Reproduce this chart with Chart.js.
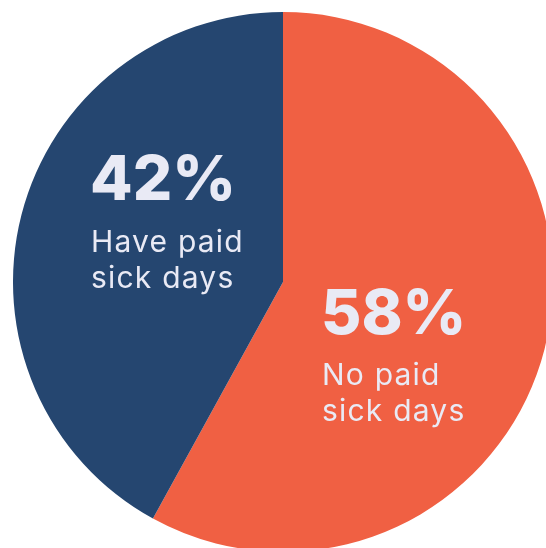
<!DOCTYPE html>
<html>
<head>
<meta charset="utf-8">
<script src="https://cdn.jsdelivr.net/npm/chart.js@4"></script>
<style>
  html, body { margin: 0; padding: 0; background: #fff; overflow: hidden; width: 546px; height: 548px; }
  #wrap { position: absolute; left: 13px; top: 12px; width: 540px; height: 540px; }
</style>
</head>
<body>
<div id="wrap"><canvas id="pie" width="540" height="540"></canvas></div>
<script>
const categories = ['No paid sick days', 'Have paid sick days'];
const shares = [58, 42];
const bigLabels = ['58%', '42%'];
const smallLabels = [['No paid', 'sick days'], ['Have paid', 'sick days']];
const colors = ['#f06043', '#254670'];

// text spots, relative to the pie centre
const textSpots = [
  { dx: 38, dy: 52, lineY: [103, 139] },
  { dx: -193, dy: -82, lineY: [-30, 6] }
];

const labelPlugin = {
  id: 'sliceText',
  afterDraw(chart) {
    const arc = chart.getDatasetMeta(0).data[0];
    const cx = arc.x, cy = arc.y;
    const c = chart.ctx;
    c.save();
    c.fillStyle = '#e9eaf5';
    c.textAlign = 'left';
    c.textBaseline = 'alphabetic';
    textSpots.forEach((s, i) => {
      c.font = '800 62px Inter';
      c.letterSpacing = '0px';
      c.fillText(bigLabels[i], cx + s.dx, cy + s.dy);
      c.font = '400 30px Inter';
      c.letterSpacing = '1.2px';
      smallLabels[i].forEach((t, j) => {
        c.fillText(t, cx + s.dx + 1, cy + s.lineY[j]);
      });
    });
    c.restore();
  }
};

const ctx = document.getElementById('pie').getContext('2d');
new Chart(ctx, {
  type: 'pie',
  data: {
    labels: categories,
    datasets: [{
      data: shares,
      backgroundColor: colors,
      borderWidth: 0
    }]
  },
  options: {
    responsive: false,
    animation: false,
    layout: { padding: 0 },
    plugins: {
      legend: { display: false },
      tooltip: { enabled: false }
    }
  },
  plugins: [labelPlugin]
});
</script>
</body>
</html>
